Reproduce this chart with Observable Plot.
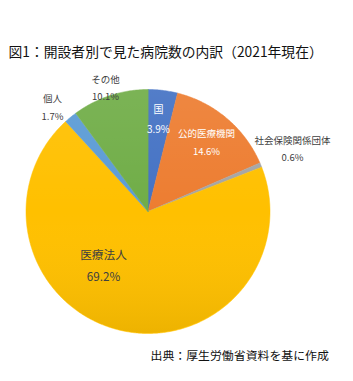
<!DOCTYPE html>
<html>
<head>
<meta charset="utf-8">
<script src="https://cdn.jsdelivr.net/npm/d3@7"></script>
<script src="https://cdn.jsdelivr.net/npm/@observablehq/plot@0.6"></script>
<style>
  html, body { margin: 0; padding: 0; background: #fff; }
  #chart svg { display: block; }
</style>
</head>
<body>
<div id="chart"></div>
<script>
// ---- data ----
const categories = ["国", "公的医療機関", "社会保険関係団体", "医療法人", "個人", "その他"];
const shares = [3.9, 14.6, 0.6, 69.2, 1.7, 10.1];
const valueLabels = ["3.9%", "14.6%", "0.6%", "69.2%", "1.7%", "10.1%"];
const colors = ["#4472C4", "#ED7D31", "#A5A5A5", "#FFC000", "#5B9BD5", "#70AD47"];
const title = "図1：開設者別で見た病院数の内訳（2021年現在）";
const caption = "出典：厚生労働省資料を基に作成";

// ---- layout ----
const W = 353, H = 381;
const cx = 147.5, cy = 211, R = 122;
const labelPos = [[158, 109], [206, 133], [292, 140], [103, 255], [52, 98], [105, 79]];
const labelGap = [20, 18, 17, 22, 18, 17];
const labelFill = ["#ffffff", "#ffffff", "#404040", "#404040", "#404040", "#404040"];
const labelSize = [10, 9.5, 9.5, 11.7, 9.5, 9.5];

const font = "'Noto Sans CJK JP', 'Noto Sans', sans-serif";

const rows = categories.map((name, i) => ({name, value: shares[i], i}));
const arcs = d3.pie().sort(null).value(d => d.value)(rows);

const polys = [];
for (const a of arcs) {
  const n = Math.max(2, Math.ceil((a.endAngle - a.startAngle) / 0.01));
  polys.push({name: a.data.name, x: cx, y: cy});
  for (let k = 0; k <= n; k++) {
    const t = a.startAngle + (a.endAngle - a.startAngle) * k / n;
    polys.push({name: a.data.name, x: cx + R * Math.sin(t), y: cy - R * Math.cos(t)});
  }
}

const nameLabels = rows.map((d, i) => ({text: d.name, x: labelPos[i][0], y: labelPos[i][1], fill: labelFill[i]}));
const pctLabels = rows.map((d, i) => ({text: valueLabels[i], x: labelPos[i][0], y: labelPos[i][1] + labelGap[i], fill: labelFill[i]}));

const chart = Plot.plot({
  width: W,
  height: H,
  margin: 0,
  style: {fontFamily: font, background: "#fff"},
  x: {domain: [0, W], range: [0, W], axis: null},
  y: {domain: [0, H], range: [0, H], axis: null},
  color: {domain: categories, range: colors},
  marks: [
    Plot.line(polys, {x: "x", y: "y", z: "name", fill: "name", stroke: "name", strokeWidth: 0.5, curve: "linear-closed"}),
    // subtle top-to-bottom shading like the original
    () => {
      const ns = "http://www.w3.org/2000/svg";
      const g = document.createElementNS(ns, "g");
      const defs = document.createElementNS(ns, "defs");
      const lg = document.createElementNS(ns, "linearGradient");
      lg.setAttribute("id", "shade");
      lg.setAttribute("x1", "0"); lg.setAttribute("y1", "0");
      lg.setAttribute("x2", "0"); lg.setAttribute("y2", "1");
      [["0", "#ffffff", "0.08"], ["0.5", "#ffffff", "0"], ["1", "#000000", "0.07"]].forEach(([o, c, op]) => {
        const s = document.createElementNS(ns, "stop");
        s.setAttribute("offset", o); s.setAttribute("stop-color", c); s.setAttribute("stop-opacity", op);
        lg.appendChild(s);
      });
      defs.appendChild(lg);
      g.appendChild(defs);
      const c = document.createElementNS(ns, "circle");
      c.setAttribute("cx", cx); c.setAttribute("cy", cy); c.setAttribute("r", R);
      c.setAttribute("fill", "url(#shade)");
      g.appendChild(c);
      return g;
    },
    ...[0,1,2,3,4,5].map(i => Plot.text([nameLabels[i], pctLabels[i]], {x: "x", y: "y", text: "text", fill: "fill", fontSize: labelSize[i], fontFamily: font})),
    Plot.text([title], {x: 8, y: 52, text: d => d, textAnchor: "start", fontSize: 13.8, fill: "#111", fontFamily: font}),
    Plot.text([caption], {x: 150, y: 356, text: d => d, textAnchor: "start", fontSize: 11.9, fill: "#111", fontFamily: font})
  ]
});
document.getElementById("chart").appendChild(chart);
</script>
</body>
</html>
